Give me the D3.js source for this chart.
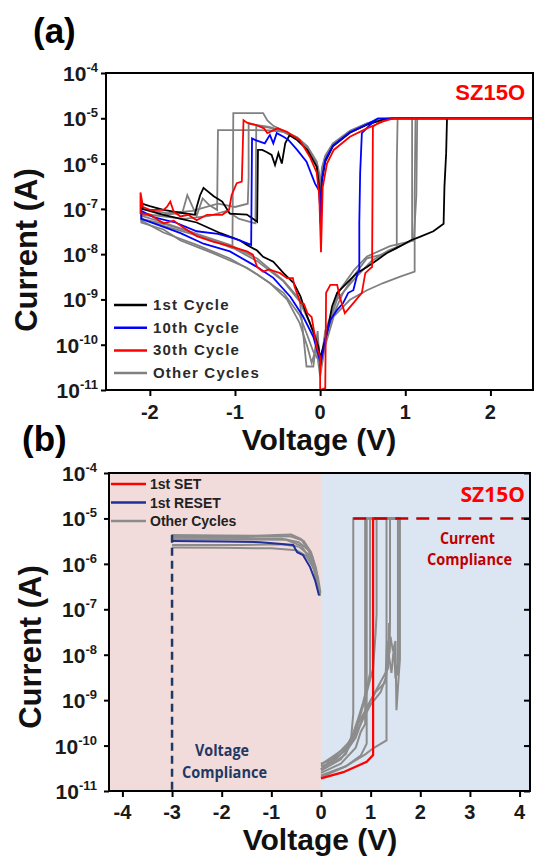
<!DOCTYPE html>
<html>
<head>
<meta charset="utf-8">
<script src="https://cdn.jsdelivr.net/npm/d3@7"></script>
<style>
  body { margin: 0; background: #fff; }
  text { font-family: "Liberation Sans", Arial, sans-serif; }
</style>
</head>
<body>
<script>
// ---------- panel (a) data : [voltage, current] ----------
const cycle1 = [
  [0.00, 5e-11], [0.08, 1.8e-10], [0.14, 7e-10], [0.20, 1.4e-9], [0.27, 1.9e-9], [0.35, 2.7e-9], [0.43, 3.8e-9],
  [0.55, 5.2e-9], [0.67, 7.4e-9], [0.78, 1.05e-8], [0.94, 1.5e-8], [1.06, 2e-8], [1.17, 2.4e-8], [1.33, 3.2e-8],
  [1.45, 4.7e-8], [1.46, 3.1e-7], [1.48, 1.7e-6], [1.49, 1e-5], [2.50, 1e-5],
  [0.86, 1e-5], [0.74, 9.3e-6], [0.55, 7.2e-6], [0.35, 4.8e-6], [0.15, 2.4e-6], [0.06, 1.1e-6], [0.02, 4e-7],
  [0.005, 5e-8], [-0.01, 3e-7], [-0.04, 8.5e-7], [-0.15, 2e-6], [-0.27, 3.3e-6], [-0.36, 4.2e-6], [-0.41, 2.8e-6],
  [-0.45, 1e-6], [-0.49, 1.7e-6], [-0.53, 9.3e-7], [-0.57, 1.55e-6], [-0.63, 1.8e-6], [-0.68, 2e-6], [-0.73, 2e-6],
  [-0.74, 5.2e-8], [-0.86, 7.5e-8], [-1.06, 7.8e-8], [-1.15, 1.45e-7], [-1.25, 1.9e-7], [-1.37, 2.9e-7],
  [-1.41, 2e-7], [-1.45, 1.1e-7], [-1.47, 7.4e-8], [-1.56, 7.8e-8], [-1.72, 8.7e-8], [-1.84, 9.5e-8],
  [-2.00, 1.15e-7], [-2.09, 1.3e-7], [-2.09, 1e-7],
  [-1.84, 7.4e-8], [-1.45, 5e-8], [-1.17, 2.9e-8], [-0.94, 2e-8], [-0.86, 1.6e-8], [-0.74, 1.2e-8],
  [-0.67, 8.7e-9], [-0.55, 6.8e-9], [-0.43, 3.8e-9], [-0.31, 2.3e-9], [-0.23, 1.15e-9], [-0.16, 4.6e-10],
  [-0.08, 1.95e-10], [-0.02, 9e-11], [0.00, 5e-11]
];

const cycle10 = [
  [0.00, 3.3e-11], [0.06, 1.3e-10], [0.12, 3.5e-10], [0.20, 5.9e-10], [0.27, 8.3e-10], [0.33, 1.4e-9],
  [0.39, 1.6e-9], [0.44, 3.8e-9], [0.46, 4.5e-9], [0.46, 4.8e-8], [0.47, 6.2e-7], [0.49, 4.7e-6], [0.58, 7e-6],
  [0.68, 1e-5], [2.50, 1e-5],
  [0.68, 1e-5], [0.55, 7.4e-6], [0.35, 4.9e-6], [0.15, 2.5e-6], [0.06, 1.2e-6], [0.02, 4.5e-7], [0.005, 6e-8],
  [-0.01, 2.5e-7], [-0.06, 3.6e-7], [-0.16, 1.1e-6], [-0.27, 2e-6], [-0.37, 3.3e-6], [-0.43, 3.9e-6],
  [-0.51, 4.7e-6], [-0.55, 2.8e-6], [-0.59, 4.3e-6], [-0.65, 2.8e-6], [-0.70, 3e-6], [-0.76, 3.3e-6],
  [-0.80, 3.6e-6], [-0.81, 1.6e-8], [-1.00, 2.2e-8], [-1.20, 2.8e-8], [-1.45, 3.2e-8], [-1.70, 5e-8],
  [-1.95, 6.5e-8], [-2.10, 9e-8], [-2.10, 6e-8],
  [-1.84, 4e-8], [-1.64, 2.9e-8], [-1.37, 1.7e-8], [-1.06, 1.15e-8], [-0.74, 5.2e-9], [-0.55, 3e-9],
  [-0.35, 1.15e-9], [-0.20, 4.2e-10], [-0.08, 1.5e-10], [0.00, 4.3e-11]
];

const cycle30 = [
  [0.00, 1e-11], [0.06, 1.1e-11], [0.07, 1.4e-9], [0.12, 2.1e-9], [0.20, 2.1e-9], [0.23, 1.15e-9], [0.29, 5e-10],
  [0.39, 8.3e-10], [0.49, 1.4e-9], [0.53, 3.8e-9], [0.57, 4.5e-9], [0.61, 5.2e-9], [0.62, 6.6e-6], [0.70, 8.2e-6],
  [0.86, 1e-5], [2.50, 1e-5],
  [0.86, 1e-5], [0.74, 8.5e-6], [0.55, 6e-6], [0.35, 3.9e-6], [0.16, 2e-6], [0.08, 1e-6], [0.03, 3e-7],
  [0.01, 1.1e-8], [-0.01, 1.9e-7], [-0.04, 6.3e-7], [-0.12, 1.4e-6], [-0.24, 3.3e-6], [-0.39, 5e-6], [-0.50, 6e-6],
  [-0.62, 4.7e-6], [-0.66, 6e-6], [-0.75, 7.1e-6], [-0.86, 8e-6], [-0.90, 9.1e-6],
  [-0.92, 4e-7], [-0.98, 3.7e-7], [-1.04, 2e-7], [-1.07, 9.5e-8], [-1.15, 7.4e-8], [-1.33, 7.4e-8],
  [-1.45, 5.6e-8], [-1.55, 7.4e-8], [-1.64, 6.8e-8], [-1.72, 8.7e-8], [-1.76, 1.45e-7], [-1.80, 1.1e-7],
  [-1.84, 9.5e-8], [-2.00, 9.5e-8], [-2.08, 1.1e-7], [-2.11, 2.3e-7], [-2.11, 8e-8],
  [-2.00, 7.5e-8], [-1.84, 4.8e-8], [-1.72, 5.5e-8], [-1.62, 4e-8], [-1.45, 2.5e-8], [-1.26, 1.9e-8],
  [-1.06, 1.5e-8], [-0.86, 1.15e-8], [-0.79, 9.7e-9], [-0.74, 5.2e-9], [-0.67, 4.1e-9], [-0.60, 4.6e-9],
  [-0.47, 3.8e-9], [-0.39, 2.95e-9], [-0.32, 2.95e-9], [-0.30, 1.9e-9], [-0.23, 8.3e-10], [-0.19, 7.9e-10],
  [-0.15, 5e-10], [-0.10, 4.1e-10], [-0.04, 8.9e-11], [0.00, 5.4e-11], [0.00, 1e-11]
];

const otherA1 = [
  [0.00, 3e-11], [0.05, 1.3e-10], [0.16, 4.9e-10], [0.27, 1.4e-9], [0.39, 3.2e-9], [0.55, 8.1e-9], [0.70, 9.5e-9],
  [0.90, 1.35e-8], [0.90, 1e-6], [0.91, 1e-5], [2.50, 1e-5],
  [0.85, 1e-5], [0.74, 9.6e-6], [0.55, 7.6e-6], [0.35, 5.2e-6], [0.15, 2.7e-6], [0.06, 1.4e-6], [0.02, 7e-7],
  [0.005, 1.6e-7], [-0.01, 5e-7], [-0.04, 1e-6], [-0.15, 2.3e-6], [-0.27, 3.7e-6], [-0.43, 5.3e-6],
  [-0.55, 6.8e-6], [-0.62, 9e-6], [-0.67, 1.3e-5], [-1.02, 1.3e-5], [-1.03, 1.35e-8],
  [-1.20, 1.8e-8], [-1.50, 3e-8], [-1.80, 4.5e-8], [-2.10, 6e-8], [-2.10, 5e-8],
  [-1.84, 3.5e-8], [-1.64, 2e-8], [-1.26, 1.05e-8], [-0.86, 5e-9], [-0.59, 2.3e-9], [-0.39, 1e-9],
  [-0.24, 3e-10], [-0.15, 9e-11], [-0.10, 4e-11], [-0.06, 7e-11], [-0.03, 2e-10], [0.00, 3e-11]
];

const otherA2 = [
  [0.00, 4e-11], [0.16, 4.2e-10], [0.35, 9.8e-10], [0.55, 1.6e-9], [0.74, 2.3e-9], [0.94, 3.2e-9], [1.11, 4.1e-9],
  [1.11, 2e-7], [1.12, 1e-5], [2.50, 1e-5],
  [0.85, 1e-5], [0.74, 9.4e-6], [0.55, 7.3e-6], [0.35, 5e-6], [0.15, 2.6e-6], [0.06, 1.3e-6], [0.02, 6e-7],
  [0.005, 4.5e-8], [-0.01, 4.5e-7], [-0.04, 9.5e-7], [-0.15, 2.2e-6], [-0.27, 3.6e-6], [-0.43, 5e-6],
  [-0.60, 5.4e-6], [-0.90, 5.5e-6], [-1.20, 5.5e-6], [-1.21, 9.5e-8], [-1.30, 1.2e-7], [-1.38, 1.7e-7],
  [-1.45, 7e-8], [-1.56, 2e-7], [-1.62, 8e-8], [-2.00, 7e-8], [-2.10, 7.5e-8], [-2.10, 5.5e-8],
  [-1.84, 3e-8], [-1.45, 1.6e-8], [-1.06, 8e-9], [-0.74, 3.6e-9], [-0.43, 1.4e-9], [-0.24, 4.5e-10],
  [-0.15, 1.6e-10], [-0.08, 7e-11], [0.00, 4e-11]
];

const otherA3 = [
  [0.00, 3e-11], [0.06, 2e-10], [0.23, 1.6e-9], [0.40, 4.5e-9], [0.55, 8.9e-9], [0.82, 1.5e-8], [1.10, 2e-8],
  [1.13, 2e-7], [1.14, 1e-5], [2.50, 1e-5],
  [0.85, 1e-5], [0.74, 9.5e-6], [0.55, 7.5e-6], [0.35, 5.1e-6], [0.15, 2.6e-6], [0.06, 1.3e-6], [0.02, 6e-7],
  [0.005, 8e-8], [-0.01, 4e-7], [-0.04, 9e-7], [-0.15, 2.1e-6], [-0.27, 3.5e-6], [-0.43, 5e-6], [-0.60, 6.2e-6],
  [-0.75, 6.9e-6], [-0.76, 4.8e-8], [-0.95, 6e-8], [-1.10, 9e-8], [-1.30, 7e-8], [-1.60, 6e-8], [-1.90, 7e-8],
  [-2.10, 8e-8], [-2.10, 6e-8],
  [-1.84, 4.2e-8], [-1.45, 2.6e-8], [-1.06, 1.5e-8], [-0.74, 7e-9], [-0.43, 2.5e-9], [-0.24, 9e-10],
  [-0.12, 3e-10], [-0.05, 1.2e-10], [0.00, 3e-11]
];

const otherA4 = [
  [0.00, 2e-11], [0.10, 3e-10], [0.20, 1e-9], [0.40, 2.8e-9], [0.60, 7e-9], [0.80, 1.2e-8], [1.00, 1.7e-8],
  [1.08, 2e-8], [1.08, 1e-5], [2.50, 1e-5],
  [0.85, 1e-5], [0.74, 9.7e-6], [0.55, 7.7e-6], [0.35, 5.3e-6], [0.15, 2.8e-6], [0.06, 1.5e-6], [0.02, 8e-7],
  [0.005, 2e-7], [-0.01, 6e-7], [-0.04, 1.1e-6], [-0.15, 2.4e-6], [-0.27, 3.8e-6], [-0.43, 5.2e-6],
  [-0.60, 6.5e-6], [-0.84, 7.5e-6], [-0.84, 5e-7], [-0.85, 1.3e-7], [-1.00, 1.1e-7], [-1.20, 1.3e-7],
  [-1.50, 9e-8], [-1.80, 8e-8], [-2.10, 1e-7], [-2.10, 7e-8],
  [-1.84, 5e-8], [-1.45, 2.8e-8], [-1.06, 1.6e-8], [-0.74, 8e-9], [-0.43, 2.6e-9], [-0.24, 1e-9],
  [-0.16, 3.3e-11], [-0.08, 3.3e-11], [-0.05, 1e-10], [0.00, 2e-11]
];

const otherCyclesA = [otherA1, otherA2, otherA3, otherA4];

// ---------- panel (b) data ----------
const firstSet = [[0.00, 1.9e-11], [0.45, 2.6e-11], [0.92, 4.4e-11], [1.05, 6.2e-11], [1.05, 1e-5], [1.10, 1e-5]];
const firstReset = [[-3.00, 3.2e-6], [-2.00, 3.1e-6], [-1.22, 3.0e-6], [-0.56, 2.6e-6], [-0.48, 1.8e-6],
  [-0.36, 1.55e-6], [-0.22, 8.5e-7], [-0.12, 4.4e-7], [-0.04, 2e-7]];

const otherSets = [
  [[0.00, 3.5e-11], [0.30, 4.5e-11], [0.50, 6.5e-11], [0.60, 1.2e-10], [0.65, 5e-10], [0.65, 1e-5], [1.60, 1e-5]],
  [[0.00, 2.5e-11], [0.40, 4e-11], [0.70, 9e-11], [0.80, 2e-10], [0.89, 3e-10], [0.89, 1e-5], [1.60, 1e-5]],
  [[0.00, 2e-11], [0.50, 3.5e-11], [0.80, 6e-11], [0.92, 1.1e-10], [0.92, 1e-5], [1.60, 1e-5]],
  [[0.00, 3e-11], [0.30, 6e-11], [0.60, 1.3e-10], [0.75, 4e-10], [0.85, 9e-10], [0.95, 2.5e-9], [0.99, 4e-9], [0.99, 1e-5], [1.60, 1e-5]],
  [[0.00, 4e-11], [0.25, 5e-11], [0.50, 8e-11], [0.70, 2e-10], [0.90, 1.2e-9], [1.05, 5e-9], [1.10, 3e-8], [1.12, 8e-8], [1.12, 1e-5], [1.60, 1e-5]],
  [[0.00, 2.2e-11], [0.50, 3.5e-11], [0.90, 6.5e-11], [1.05, 8.7e-11], [1.32, 1.3e-10], [1.32, 1e-5], [1.60, 1e-5]],
  [[0.00, 3e-11], [0.30, 5e-11], [0.60, 1.1e-10], [0.80, 3e-10], [1.00, 8e-10], [1.20, 1.5e-9], [1.30, 3e-9], [1.33, 2e-8], [1.35, 6e-9], [1.37, 5e-8], [1.38, 1.1e-8], [1.39, 5e-8], [1.39, 1e-5], [1.60, 1e-5]],
  [[0.00, 2.8e-11], [0.40, 5e-11], [0.70, 1.5e-10], [0.90, 6e-10], [1.10, 1.5e-9], [1.30, 2.5e-9], [1.36, 1.1e-8], [1.42, 4e-9], [1.47, 1.5e-8], [1.50, 3e-9], [1.53, 6e-9], [1.55, 3.5e-9], [1.55, 1e-5], [1.60, 1e-5]],
  [[0.00, 3.8e-11], [0.50, 9e-11], [0.75, 3e-10], [1.00, 1e-9], [1.20, 2.5e-9], [1.35, 5e-9], [1.40, 2.5e-8], [1.45, 1.2e-8], [1.50, 2e-8], [1.52, 6e-10], [1.57, 4e-9], [1.59, 8e-9], [1.59, 1e-5], [1.60, 1e-5]]
];

const otherResets = [
  [[-3.00, 4.3e-6], [-2.00, 4.2e-6], [-1.00, 4.1e-6], [-0.60, 4.0e-6], [-0.35, 3.2e-6], [-0.20, 1.8e-6], [-0.10, 8e-7], [-0.03, 2.2e-7]],
  [[-3.00, 2.3e-6], [-2.00, 2.25e-6], [-1.00, 2.2e-6], [-0.50, 2.0e-6], [-0.30, 1.5e-6], [-0.15, 8e-7], [-0.05, 3e-7], [-0.02, 2e-7]],
  [[-3.00, 3.8e-6], [-1.50, 3.7e-6], [-0.80, 3.6e-6], [-0.45, 3.0e-6], [-0.25, 2.0e-6], [-0.12, 8e-7], [-0.03, 2.5e-7]],
  [[-3.00, 3.5e-6], [-1.50, 3.45e-6], [-0.70, 3.4e-6], [-0.40, 2.5e-6], [-0.20, 1.2e-6], [-0.08, 4.5e-7], [-0.02, 2e-7]],
  [[-3.00, 4.0e-6], [-1.80, 3.9e-6], [-0.90, 4.3e-6], [-0.60, 4.4e-6], [-0.40, 3.5e-6], [-0.18, 1.5e-6], [-0.06, 5e-7], [-0.01, 2.3e-7]],
  [[-3.00, 2.6e-6], [-1.60, 2.6e-6], [-0.80, 2.7e-6], [-0.45, 2.4e-6], [-0.25, 1.6e-6], [-0.10, 6e-7], [-0.02, 2e-7]]
];

// ---------- ticks & labels ----------
const decades = [-11, -10, -9, -8, -7, -6, -5, -4];
const voltTicksA = [-2, -1, 0, 1, 2];
const voltTicksB = [-4, -3, -2, -1, 0, 1, 2, 3, 4];
const legendA = ['1st Cycle', '10th Cycle', '30th Cycle', 'Other Cycles'];
const legendAColors = ['#000000', '#0000ff', '#ff0000', '#808080'];
const legendB = ['1st SET', '1st RESET', 'Other Cycles'];
const legendBColors = ['#ff0000', '#20309a', '#8c8c8c'];

const currentCompliance = 1e-5;
const voltageCompliance = -3;

const svg = d3.select('body').append('svg')
  .attr('width', 539)
  .attr('height', 867);

function drawAxes(g, x, y, xTicks, box, opts) {
  // left ticks
  g.append('g')
    .attr('transform', `translate(${box.left},0)`)
    .call(d3.axisLeft(y).tickValues(decades.map(e => Math.pow(10, e))).tickSize(5).tickFormat(''))
    .call(a => a.select('.domain').remove())
    .selectAll('line').attr('stroke-width', 2);
  // bottom ticks
  g.append('g')
    .attr('transform', `translate(0,${box.bottom})`)
    .call(d3.axisBottom(x).tickValues(xTicks).tickSize(6).tickFormat(''))
    .call(a => a.select('.domain').remove())
    .selectAll('line').attr('stroke-width', 2);
  if (opts.rightTicks) {
    g.append('g')
      .attr('transform', `translate(${box.right},0)`)
      .call(d3.axisLeft(y).tickValues(decades.map(e => Math.pow(10, e))).tickSize(6).tickFormat(''))
      .call(a => a.select('.domain').remove())
      .selectAll('line').attr('stroke-width', 2);
  }

  // y tick labels 10^n
  const yl = g.selectAll('text.ylab')
    .data(decades)
    .enter()
    .append('text')
    .attr('class', 'ylab')
    .attr('x', opts.yLabelX)
    .attr('y', d => y(Math.pow(10, d)) + 8)
    .attr('text-anchor', 'end')
    .attr('font-weight', 'bold')
    .attr('fill', '#1a1a1a');
  yl.append('tspan').attr('font-size', 21).text('10');
  yl.append('tspan').attr('font-size', 13).attr('dy', -9).text(d => String(d));

  // x tick labels
  g.selectAll('text.xlab')
    .data(xTicks)
    .enter()
    .append('text')
    .attr('class', 'xlab')
    .attr('x', d => x(d))
    .attr('y', opts.xLabelY)
    .attr('text-anchor', 'middle')
    .attr('font-size', 20)
    .attr('font-weight', 'bold')
    .attr('fill', '#1a1a1a')
    .text(d => String(d));

  // frame
  g.append('rect')
    .attr('x', box.left)
    .attr('y', box.top)
    .attr('width', box.right - box.left)
    .attr('height', box.bottom - box.top)
    .attr('fill', 'none')
    .attr('stroke', '#000')
    .attr('stroke-width', 2);

  // axis titles
  g.append('text')
    .attr('x', opts.titleX)
    .attr('y', opts.xTitleY)
    .attr('text-anchor', 'middle')
    .attr('font-size', 30)
    .attr('font-weight', 'bold')
    .attr('fill', '#111')
    .text('Voltage (V)');
  g.append('text')
    .attr('transform', `translate(${opts.yTitleX},${opts.yTitleY}) rotate(-90)`)
    .attr('text-anchor', 'middle')
    .attr('font-size', 31)
    .attr('font-weight', 'bold')
    .attr('fill', '#111')
    .text('Current (A)');
}

// ================= panel (a) =================
const boxA = {left: 106, right: 533, top: 73, bottom: 390};
const xA = d3.scaleLinear().domain([-2.515, 2.5]).range([boxA.left, boxA.right]);
const yA = d3.scaleLog().domain([1e-11, 1e-4]).range([boxA.bottom, boxA.top]);
const lineA = d3.line().x(d => xA(d[0])).y(d => yA(d[1]));

const gA = svg.append('g');

gA.selectAll('path.other')
  .data(otherCyclesA)
  .enter()
  .append('path')
  .attr('class', 'other')
  .attr('fill', 'none')
  .attr('stroke', '#808080')
  .attr('stroke-width', 1.8)
  .attr('d', lineA);

[[cycle1, '#000000'], [cycle10, '#0000ff'], [cycle30, '#ff0000']].forEach(function (c) {
  gA.append('path')
    .datum(c[0])
    .attr('fill', 'none')
    .attr('stroke', c[1])
    .attr('stroke-width', 1.8)
    .attr('d', lineA);
});

drawAxes(gA, xA, yA, voltTicksA, boxA, {
  rightTicks: false, yLabelX: 98, xLabelY: 419, titleX: 319, xTitleY: 450, yTitleX: 37, yTitleY: 250
});

// legend (a)
legendA.forEach(function (name, i) {
  const yy = 305 + i * 22.7;
  gA.append('line')
    .attr('x1', 114).attr('x2', 147)
    .attr('y1', yy).attr('y2', yy)
    .attr('stroke', legendAColors[i])
    .attr('stroke-width', 2.5);
  gA.append('text')
    .attr('x', 153)
    .attr('y', yy + 5)
    .attr('font-size', 15)
    .attr('font-weight', 'bold')
    .attr('letter-spacing', 1.2)
    .attr('fill', '#2a2a2a')
    .text(name);
});

gA.append('text')
  .attr('x', 525).attr('y', 100)
  .attr('text-anchor', 'end')
  .attr('font-size', 22)
  .attr('font-weight', 'bold')
  .attr('fill', '#ff0000')
  .text('SZ15O');

gA.append('text')
  .attr('x', 33).attr('y', 43)
  .attr('font-size', 35)
  .attr('font-weight', 'bold')
  .attr('fill', '#000')
  .text('(a)');

// ================= panel (b) =================
const boxB = {left: 109, right: 530, top: 473, bottom: 791};
const xB = d3.scaleLinear().domain([-4.27, 4.21]).range([boxB.left, boxB.right]);
const yB = d3.scaleLog().domain([1e-11, 1e-4]).range([boxB.bottom, boxB.top]);
const lineB = d3.line().x(d => xB(d[0])).y(d => yB(d[1]));

const gB = svg.append('g');

gB.append('rect')
  .attr('x', boxB.left).attr('y', boxB.top)
  .attr('width', xB(0) - boxB.left).attr('height', boxB.bottom - boxB.top)
  .attr('fill', '#f2dcdb');
gB.append('rect')
  .attr('x', xB(0)).attr('y', boxB.top)
  .attr('width', boxB.right - xB(0)).attr('height', boxB.bottom - boxB.top)
  .attr('fill', '#dce6f2');

gB.selectAll('path.reset')
  .data(otherResets)
  .enter()
  .append('path')
  .attr('class', 'reset')
  .attr('fill', 'none')
  .attr('stroke', '#8c8c8c')
  .attr('stroke-width', 2)
  .attr('d', lineB);

gB.append('path')
  .datum(firstReset)
  .attr('fill', 'none')
  .attr('stroke', '#20309a')
  .attr('stroke-width', 2)
  .attr('d', lineB);

gB.selectAll('path.set')
  .data(otherSets)
  .enter()
  .append('path')
  .attr('class', 'set')
  .attr('fill', 'none')
  .attr('stroke', '#8c8c8c')
  .attr('stroke-width', 2)
  .attr('d', lineB);

gB.append('path')
  .datum(firstSet)
  .attr('fill', 'none')
  .attr('stroke', '#ff0000')
  .attr('stroke-width', 2.2)
  .attr('d', lineB);

// compliance lines
gB.append('line')
  .attr('x1', xB(0.65)).attr('x2', boxB.right)
  .attr('y1', yB(currentCompliance)).attr('y2', yB(currentCompliance))
  .attr('stroke', '#c00000')
  .attr('stroke-width', 2.5)
  .attr('stroke-dasharray', '13,8');
gB.append('line')
  .attr('x1', xB(voltageCompliance)).attr('x2', xB(voltageCompliance))
  .attr('y1', yB(4.4e-6)).attr('y2', boxB.bottom)
  .attr('stroke', '#1f3864')
  .attr('stroke-width', 2.5)
  .attr('stroke-dasharray', '8,5');

drawAxes(gB, xB, yB, voltTicksB, boxB, {
  rightTicks: true, yLabelX: 97, xLabelY: 819, titleX: 320, xTitleY: 850, yTitleX: 41, yTitleY: 647
});

// legend (b)
legendB.forEach(function (name, i) {
  const yy = 484 + i * 18.5;
  gB.append('line')
    .attr('x1', 111).attr('x2', 146)
    .attr('y1', yy).attr('y2', yy)
    .attr('stroke', legendBColors[i])
    .attr('stroke-width', 2.5);
  gB.append('text')
    .attr('x', 150)
    .attr('y', yy + 5)
    .attr('font-size', 14)
    .attr('font-weight', 'bold')
    .attr('fill', '#222')
    .text(name);
});

gB.append('text')
  .attr('x', 525).attr('y', 502)
  .attr('text-anchor', 'end')
  .style('font-family', '"Open Sans", sans-serif')
  .attr('font-size', 21)
  .attr('font-weight', 'bold')
  .attr('fill', '#ff0000')
  .text('SZ15O');

function note(g, x, y, str, len, color) {
  g.append('text')
    .attr('x', x - len / 2).attr('y', y)
    .style('font-family', '"Open Sans", sans-serif')
    .attr('font-size', 16)
    .attr('font-weight', 'bold')
    .attr('fill', color)
    .attr('textLength', len)
    .attr('lengthAdjust', 'spacingAndGlyphs')
    .text(str);
}
note(gB, 467.5, 544, 'Current', 55, '#c00000');
note(gB, 469.5, 565, 'Compliance', 85, '#c00000');
note(gB, 222, 756, 'Voltage', 54, '#1f3864');
note(gB, 224.5, 778, 'Compliance', 85, '#1f3864');

gB.append('text')
  .attr('x', 22).attr('y', 451)
  .attr('font-size', 35)
  .attr('font-weight', 'bold')
  .attr('fill', '#000')
  .text('(b)');
</script>
</body>
</html>
